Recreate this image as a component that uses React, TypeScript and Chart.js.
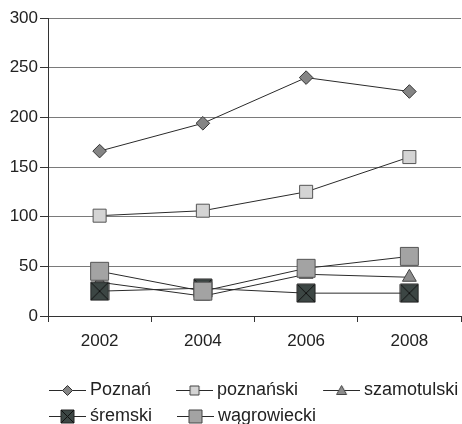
import React, { useEffect, useRef } from 'react';
import { Chart, registerables } from 'chart.js';

Chart.register(...registerables);

const years = ['2002', '2004', '2006', '2008'];
const poznan = [166, 194, 240, 226];
const poznanski = [101, 106, 125, 160];
const szamotulski = [34, 20, 42, 39];
const sremski = [25, 28, 23, 23];
const wagrowiecki = [45, 25, 48, 60];
const seriesNames = ['Poznań', 'poznański', 'szamotulski', 'śremski', 'wągrowiecki'];
const yMin = 0;
const yMax = 300;
const yStep = 50;

const LINE = '#2a2a2a';
const FONT = "'Liberation Sans', Arial, sans-serif";

type Kind = 'diamond' | 'square' | 'triangle' | 'xsquare';

function drawMarker(ctx: CanvasRenderingContext2D, kind: Kind, cx: number, cy: number, size: number, fill: string, stroke: string) {
  ctx.fillStyle = fill;
  ctx.strokeStyle = stroke;
  ctx.lineWidth = 1;
  const h = size / 2;
  ctx.beginPath();
  if (kind === 'diamond') {
    ctx.moveTo(cx, cy - h);
    ctx.lineTo(cx + h, cy);
    ctx.lineTo(cx, cy + h);
    ctx.lineTo(cx - h, cy);
    ctx.closePath();
  } else if (kind === 'triangle') {
    ctx.moveTo(cx, cy - h);
    ctx.lineTo(cx + h, cy + h * 0.8);
    ctx.lineTo(cx - h, cy + h * 0.8);
    ctx.closePath();
  } else {
    ctx.rect(cx - h, cy - h, size, size);
  }
  ctx.fill();
  ctx.stroke();
  if (kind === 'xsquare') {
    ctx.beginPath();
    ctx.strokeStyle = '#111';
    ctx.moveTo(cx - h, cy - h);
    ctx.lineTo(cx + h, cy + h);
    ctx.moveTo(cx + h, cy - h);
    ctx.lineTo(cx - h, cy + h);
    ctx.stroke();
  }
}

function makePointImage(size: number, fill: string, stroke: string): HTMLCanvasElement {
  const c = document.createElement('canvas');
  c.width = size + 2;
  c.height = size + 2;
  const ctx = c.getContext('2d')!;
  drawMarker(ctx, 'xsquare', (size + 2) / 2, (size + 2) / 2, size, fill, stroke);
  return c;
}

const LEG_L = 22;
const LEG_C = 37;
const LEG_W = LEG_L + LEG_C;
const LEG_H = 18;

function makeLegendIcon(kind: Kind, size: number, fill: string, stroke: string): HTMLCanvasElement {
  const c = document.createElement('canvas');
  c.width = LEG_W;
  c.height = LEG_H;
  const ctx = c.getContext('2d')!;
  ctx.fillStyle = LINE;
  ctx.fillRect(LEG_L, 9, LEG_C, 1);
  drawMarker(ctx, kind, LEG_L + LEG_C / 2, 9.5, size, fill, stroke);
  return c;
}

const legendShift = {
  id: 'legendShift',
  afterLayout(chart: any) {
    const lg = chart.legend;
    if (!lg) return;
    lg.left += 24;
    lg.right += 24;
    lg.top += 11;
    lg.bottom += 11;
  },
};

export default function App() {
  const ref = useRef<HTMLCanvasElement | null>(null);

  useEffect(() => {
    document.body.style.margin = '0';
    const canvas = ref.current;
    if (!canvas) return;

    const sremskiImg = makePointImage(18, '#3c4644', '#222');
    const legendIcons = [
      makeLegendIcon('diamond', 10, '#858585', '#333'),
      makeLegendIcon('square', 9, '#d4d4d4', '#444'),
      makeLegendIcon('triangle', 10, '#8c8c8c', '#444'),
      makeLegendIcon('xsquare', 13, '#3c4644', '#222'),
      makeLegendIcon('square', 13, '#a3a3a3', '#444'),
    ];

    const common = {
      borderColor: LINE,
      borderWidth: 1,
      tension: 0,
      fill: false,
    };

    const chart = new Chart(canvas, {
      type: 'line',
      data: {
        labels: years,
        datasets: [
          {
            ...common,
            label: seriesNames[0],
            data: poznan,
            order: 5,
            pointStyle: 'rectRot',
            pointRadius: 6.8,
            pointBackgroundColor: '#858585',
            pointBorderColor: '#333',
            pointBorderWidth: 1,
          },
          {
            ...common,
            label: seriesNames[1],
            data: poznanski,
            order: 4,
            pointStyle: 'rect',
            pointRadius: 9.2,
            pointBackgroundColor: '#d4d4d4',
            pointBorderColor: '#555',
            pointBorderWidth: 1,
          },
          {
            ...common,
            label: seriesNames[2],
            data: szamotulski,
            order: 3,
            pointStyle: 'triangle',
            pointRadius: 8,
            pointBackgroundColor: '#8c8c8c',
            pointBorderColor: '#444',
            pointBorderWidth: 1,
          },
          {
            ...common,
            label: seriesNames[3],
            data: sremski,
            order: 2,
            pointStyle: sremskiImg as any,
            pointRadius: 9,
          },
          {
            ...common,
            label: seriesNames[4],
            data: wagrowiecki,
            order: 1,
            pointStyle: 'rect',
            pointRadius: 12.7,
            pointBackgroundColor: '#a3a3a3',
            pointBorderColor: '#555',
            pointBorderWidth: 1,
          },
        ] as any,
      },
      options: {
        responsive: false,
        animation: false,
        layout: { autoPadding: false, padding: { top: 18, right: 1, left: 0, bottom: 0 } },
        plugins: {
          tooltip: { enabled: false },
          legend: {
            position: 'bottom',
            align: 'start',
            labels: {
              usePointStyle: true,
              pointStyleWidth: LEG_W - 10,
              padding: 8,
              color: '#222',
              font: { family: FONT, size: 18 },
              generateLabels: () =>
                seriesNames.map((name, i) => ({
                  text: name,
                  pointStyle: legendIcons[i] as any,
                  fillStyle: 'transparent',
                  strokeStyle: 'transparent',
                  lineWidth: 0,
                  hidden: false,
                  datasetIndex: i,
                  fontColor: '#222',
                })),
            },
          },
        },
        scales: {
          x: {
            offset: true,
            afterFit: (s: any) => {
              s.height = 46;
              s.paddingLeft = 0;
              s.paddingRight = 0;
            },
            grid: {
              offset: true,
              drawOnChartArea: false,
              drawTicks: true,
              tickLength: 6,
              tickColor: '#333',
            },
            border: { display: true, color: '#333', width: 1 },
            ticks: {
              color: '#222',
              padding: 9,
              font: { family: FONT, size: 17 },
            },
          },
          y: {
            min: yMin,
            max: yMax,
            afterFit: (s: any) => {
              s.width = 48;
            },
            grid: {
              color: '#7a7a7a',
              lineWidth: 1,
              drawTicks: true,
              tickLength: 8,
              tickColor: '#333',
            },
            border: { display: true, color: '#333', width: 1 },
            ticks: {
              stepSize: yStep,
              color: '#222',
              padding: 2,
              font: { family: FONT, size: 17 },
            },
          },
        },
      },
      plugins: [legendShift],
    });

    return () => {
      chart.destroy();
    };
  }, []);

  return (
    <div style={{ width: 462, height: 424 }}>
      <canvas ref={ref} width={462} height={424} />
    </div>
  );
}
